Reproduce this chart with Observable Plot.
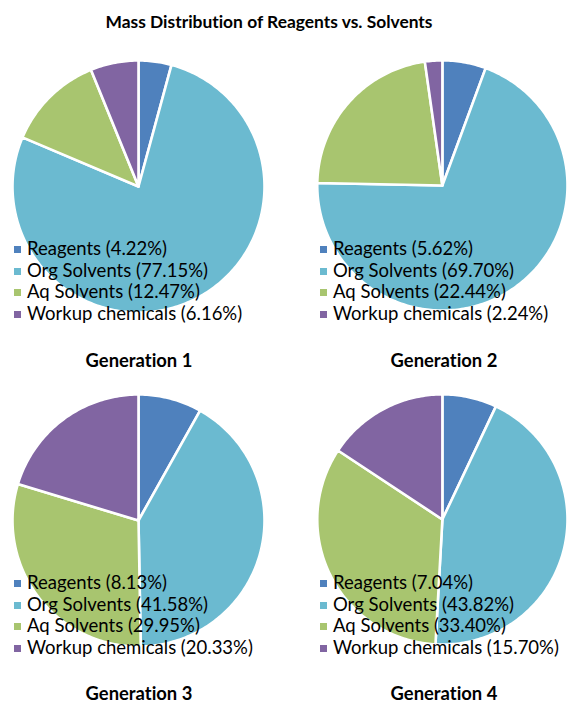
<!DOCTYPE html>
<html>
<head>
<meta charset="utf-8">
<script src="https://cdn.jsdelivr.net/npm/d3@7"></script>
<script src="https://cdn.jsdelivr.net/npm/@observablehq/plot@0.6"></script>
<style>
  html, body { margin: 0; padding: 0; background: #fff; }
  #root { position: relative; width: 567px; height: 703px; overflow: hidden; font-family: Lato, "Open Sans", sans-serif; color: #000; font-variant-ligatures: none; }
  .title { position: absolute; left: 0; width: 538px; top: 12px; line-height: 20px; text-align: center; font-weight: bold; font-size: 17.4px; }
  .panel { position: absolute; }
  .gen { position: absolute; width: 280px; text-align: center; font-weight: bold; font-size: 18.4px; line-height: 14px; }
  .legend { position: absolute; font-size: 18.5px; line-height: 21.7px; white-space: nowrap; }
  .legend .sw { display: inline-block; width: 7px; height: 7px; margin-right: 6px; vertical-align: middle; position: relative; top: -1px; }
</style>
</head>
<body>
<div id="root"></div>
<script>
const title = "Mass Distribution of Reagents vs. Solvents";
const categories = ["Reagents", "Org Solvents", "Aq Solvents", "Workup chemicals"];
const generations = ["Generation 1", "Generation 2", "Generation 3", "Generation 4"];
const gen1 = [4.22, 77.15, 12.47, 6.16];
const gen2 = [5.62, 69.70, 22.44, 2.24];
const gen3 = [8.13, 41.58, 29.95, 20.33];
const gen4 = [7.04, 43.82, 33.40, 15.70];
const series = [gen1, gen2, gen3, gen4];

const colors = ["#4F81BD", "#6BBAD0", "#A8C56F", "#8165A2"];

// layout (styles only)
const panels = [
  {left: 0,   top: 40,  width: 283, ml: 12, mr: 19, legendLeft: 14,  legendTop: 238, genLeft: -1,  genTop: 353},
  {left: 284, top: 40,  width: 285, ml: 33, mr: 0,  legendLeft: 320, legendTop: 238, genLeft: 304, genTop: 353},
  {left: 0,   top: 374, width: 283, ml: 12, mr: 19, legendLeft: 14,  legendTop: 572, genLeft: -1,  genTop: 686},
  {left: 284, top: 374, width: 285, ml: 33, mr: 0,  legendLeft: 320, legendTop: 572, genLeft: 304, genTop: 686}
];

const root = document.getElementById("root");
const t = document.createElement("div");
t.className = "title"; t.textContent = title;
root.appendChild(t);

function slicePolygons(values) {
  const arcs = d3.pie().sort(null).value(d => d)(values);
  const pts = [];
  arcs.forEach((a, i) => {
    const cat = categories[i];
    pts.push({cat, x: 0, y: 0});
    const n = Math.max(2, Math.ceil((a.endAngle - a.startAngle) / (Math.PI / 180)));
    for (let k = 0; k <= n; k++) {
      const ang = a.startAngle + (a.endAngle - a.startAngle) * k / n;
      pts.push({cat, x: Math.sin(ang), y: Math.cos(ang)});
    }
  });
  return pts;
}

series.forEach((values, i) => {
  const p = panels[i];
  const chart = Plot.plot({
    width: p.width,
    height: 334,
    marginLeft: p.ml,
    marginRight: p.mr,
    marginTop: 20,
    marginBottom: 62,
    x: {domain: [-1, 1], axis: null},
    y: {domain: [-1, 1], axis: null},
    color: {domain: categories, range: colors},
    style: {background: "transparent", overflow: "visible"},
    marks: [
      Plot.line(slicePolygons(values), {
        x: "x", y: "y", z: "cat", fill: "cat",
        stroke: "white", strokeWidth: 2.6, strokeLinejoin: "round",
        curve: "linear-closed"
      })
    ]
  });
  const holder = document.createElement("div");
  holder.className = "panel";
  holder.style.left = p.left + "px";
  holder.style.top = p.top + "px";
  holder.appendChild(chart);
  root.appendChild(holder);

  const lg = document.createElement("div");
  lg.className = "legend";
  lg.style.left = p.legendLeft + "px";
  lg.style.top = p.legendTop + "px";
  categories.forEach((c, j) => {
    const row = document.createElement("div");
    const sw = document.createElement("span");
    sw.className = "sw"; sw.style.background = colors[j];
    row.appendChild(sw);
    row.appendChild(document.createTextNode(`${c} (${values[j].toFixed(2)}%)`));
    lg.appendChild(row);
  });
  root.appendChild(lg);

  const g = document.createElement("div");
  g.className = "gen";
  g.style.left = p.genLeft + "px";
  g.style.top = p.genTop + "px";
  g.textContent = generations[i];
  root.appendChild(g);
});
</script>
</body>
</html>
